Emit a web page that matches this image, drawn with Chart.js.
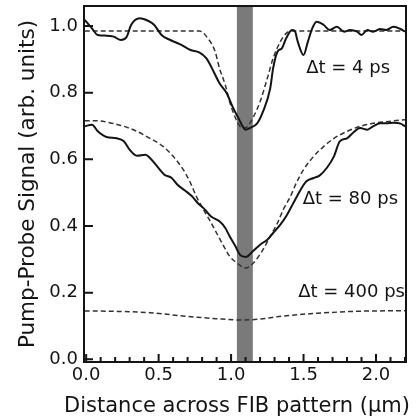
<!DOCTYPE html>
<html>
<head>
<meta charset="utf-8">
<script src="https://cdn.jsdelivr.net/npm/chart.js@4.4.1/dist/chart.umd.min.js"></script>
<style>
  html, body { margin: 0; padding: 0; background: #fff; }
  canvas { display: block; }
</style>
</head>
<body>
<canvas id="chart" width="417" height="418"></canvas>
<script>
// delta t = 4 ps, measured
const x4Solid = [-0.01, 0.04, 0.08, 0.14, 0.19, 0.24, 0.28, 0.31, 0.37, 0.43, 0.47, 0.52, 0.58, 0.65, 0.72, 0.78, 0.83, 0.88, 0.92, 0.97, 1.01, 1.05, 1.09, 1.10, 1.13, 1.18, 1.22, 1.27, 1.29, 1.32, 1.35, 1.38, 1.42, 1.44, 1.46, 1.50, 1.53, 1.56, 1.59, 1.64, 1.68, 1.73, 1.78, 1.82, 1.87, 1.90, 1.94, 1.98, 2.03, 2.07, 2.12, 2.17, 2.20];
const y4Solid = [1.018, 0.993, 0.973, 0.971, 0.968, 0.958, 0.968, 1.003, 1.023, 1.015, 1.003, 0.973, 0.958, 0.945, 0.928, 0.921, 0.903, 0.863, 0.828, 0.798, 0.758, 0.724, 0.692, 0.689, 0.694, 0.708, 0.743, 0.813, 0.873, 0.923, 0.933, 0.963, 0.988, 0.985, 0.953, 0.913, 0.953, 0.993, 1.013, 1.003, 0.988, 0.998, 0.983, 0.988, 0.983, 0.973, 0.988, 0.983, 0.991, 0.988, 0.998, 0.991, 0.983];
// delta t = 4 ps, fit
const x4Fit = [-0.01, 0.78, 0.84, 0.89, 0.92, 0.96, 0.99, 1.03, 1.06, 1.09, 1.11, 1.15, 1.20, 1.25, 1.29, 1.34, 1.38, 1.42, 2.20];
const y4Fit = [0.985, 0.985, 0.963, 0.923, 0.873, 0.823, 0.773, 0.724, 0.700, 0.694, 0.697, 0.724, 0.773, 0.843, 0.903, 0.953, 0.978, 0.985, 0.985];

// delta t = 80 ps, measured
const x80Solid = [-0.01, 0.04, 0.08, 0.14, 0.21, 0.26, 0.30, 0.35, 0.41, 0.44, 0.49, 0.54, 0.59, 0.63, 0.68, 0.73, 0.77, 0.82, 0.86, 0.92, 0.96, 0.99, 1.03, 1.06, 1.10, 1.15, 1.20, 1.25, 1.29, 1.34, 1.38, 1.43, 1.48, 1.52, 1.57, 1.61, 1.66, 1.71, 1.75, 1.80, 1.84, 1.89, 1.94, 1.98, 2.03, 2.07, 2.12, 2.17, 2.20];
const y80Solid = [0.699, 0.704, 0.684, 0.667, 0.663, 0.654, 0.629, 0.611, 0.614, 0.604, 0.579, 0.554, 0.544, 0.524, 0.507, 0.489, 0.469, 0.449, 0.429, 0.414, 0.394, 0.369, 0.339, 0.314, 0.307, 0.324, 0.344, 0.359, 0.379, 0.404, 0.429, 0.469, 0.509, 0.534, 0.544, 0.551, 0.574, 0.609, 0.654, 0.663, 0.679, 0.694, 0.689, 0.699, 0.708, 0.708, 0.710, 0.707, 0.699];
// delta t = 80 ps, fit
const x80Fit = [-0.01, 0.07, 0.16, 0.26, 0.35, 0.44, 0.53, 0.60, 0.67, 0.72, 0.76, 0.81, 0.85, 0.90, 0.95, 0.99, 1.04, 1.10, 1.16, 1.22, 1.27, 1.32, 1.36, 1.41, 1.45, 1.50, 1.57, 1.64, 1.71, 1.80, 1.89, 1.98, 2.07, 2.20];
const y80Fit = [0.716, 0.716, 0.710, 0.699, 0.684, 0.663, 0.639, 0.609, 0.569, 0.529, 0.489, 0.449, 0.419, 0.379, 0.339, 0.309, 0.289, 0.274, 0.292, 0.329, 0.369, 0.409, 0.449, 0.489, 0.529, 0.569, 0.609, 0.639, 0.663, 0.684, 0.699, 0.708, 0.713, 0.719];

// delta t = 400 ps, fit only
const x400Fit = [-0.01, 0.20, 0.44, 0.67, 0.90, 1.08, 1.20, 1.36, 1.59, 1.86, 2.20];
const y400Fit = [0.145, 0.144, 0.140, 0.130, 0.122, 0.118, 0.121, 0.130, 0.138, 0.144, 0.146];

const xTicks = [0, 0.5, 1.0, 1.5, 2.0];
const xMinorTicks = [0.1, 0.2, 0.3, 0.4, 0.6, 0.7, 0.8, 0.9, 1.1, 1.2, 1.3, 1.4, 1.6, 1.7, 1.8, 1.9, 2.1, 2.2];
const yTicks = [0, 0.2, 0.4, 0.6, 0.8, 1.0];
const fibBand = [1.04, 1.15];
const delayLabels = ['Δt = 4 ps', 'Δt = 80 ps', 'Δt = 400 ps'];
const labelAnchors = [[2.097, 0.874], [2.152, 0.479], [2.2, 0.2]];
const xTitle = 'Distance across FIB pattern (μm)';
const yTitle = 'Pump-Probe Signal (arb. units)';

const ink = '#141414';
const textFont = '"DejaVu Sans", sans-serif';

function points(xs, ys) {
  return xs.map((x, i) => ({ x: x, y: ys[i] }));
}

function solid(xs, ys) {
  return { data: points(xs, ys), borderColor: ink, borderWidth: 2, pointRadius: 0, cubicInterpolationMode: 'monotone' };
}

function dashed(xs, ys) {
  return { data: points(xs, ys), borderColor: '#333', borderWidth: 1.5, borderDash: [5, 3], pointRadius: 0, cubicInterpolationMode: 'monotone' };
}

const framePlugin = {
  id: 'frame',
  beforeDatasetsDraw(chart) {
    const { ctx, chartArea: a, scales: { x } } = chart;
    const l = x.getPixelForValue(fibBand[0]);
    const r = x.getPixelForValue(fibBand[1]);
    ctx.save();
    ctx.fillStyle = '#7a7a7a';
    ctx.fillRect(l, a.top, r - l, a.bottom - a.top);
    ctx.restore();
  },
  afterDraw(chart) {
    const { ctx, chartArea: a, scales: { x, y } } = chart;
    ctx.save();
    ctx.strokeStyle = ink;
    ctx.lineWidth = 2;
    ctx.strokeRect(a.left, a.top, a.right - a.left, a.bottom - a.top);
    ctx.beginPath();
    xTicks.forEach(v => {
      const px = x.getPixelForValue(v);
      ctx.moveTo(px, a.bottom);
      ctx.lineTo(px, a.bottom - 8);
    });
    xMinorTicks.forEach(v => {
      const px = x.getPixelForValue(v);
      ctx.moveTo(px, a.bottom);
      ctx.lineTo(px, a.bottom - 5);
    });
    yTicks.forEach(v => {
      const py = y.getPixelForValue(v);
      ctx.moveTo(a.left, py);
      ctx.lineTo(a.left + 9, py);
    });
    ctx.stroke();

    ctx.fillStyle = ink;
    ctx.font = '18px ' + textFont;
    ctx.textAlign = 'right';
    ctx.textBaseline = 'middle';
    delayLabels.forEach((t, i) => {
      ctx.fillText(t, x.getPixelForValue(labelAnchors[i][0]), y.getPixelForValue(labelAnchors[i][1]));
    });

    // x title is a bit wider than the plot, so draw it here instead of the axis title
    ctx.font = '21px ' + textFont;
    ctx.textAlign = 'center';
    ctx.fillText(xTitle, (a.left + a.right) / 2 - 8, a.bottom + 45);
    ctx.restore();
  }
};

new Chart(document.getElementById('chart'), {
  type: 'line',
  data: {
    datasets: [
      solid(x4Solid, y4Solid),
      dashed(x4Fit, y4Fit),
      solid(x80Solid, y80Solid),
      dashed(x80Fit, y80Fit),
      dashed(x400Fit, y400Fit)
    ]
  },
  options: {
    responsive: false,
    animation: false,
    devicePixelRatio: 1,
    layout: { padding: { top: 6, right: 11, left: 0, bottom: 0 } },
    plugins: { legend: { display: false }, tooltip: { enabled: false } },
    scales: {
      x: {
        type: 'linear',
        min: -0.015,
        max: 2.207,
        grid: { display: false, drawTicks: false },
        border: { display: false },
        afterBuildTicks: s => { s.ticks = xTicks.map(v => ({ value: v })); },
        afterFit: s => { s.height = 56; s.paddingLeft = 0; s.paddingRight = 0; },
        ticks: {
          padding: 3,
          color: ink,
          font: { family: textFont, size: 18 },
          callback: v => v.toFixed(1)
        },
        title: { display: false }
      },
      y: {
        min: -0.008,
        max: 1.06,
        grid: { display: false, drawTicks: false },
        border: { display: false },
        afterBuildTicks: s => { s.ticks = yTicks.map(v => ({ value: v })); },
        afterFit: s => { s.width = 84; s.paddingTop = 0; s.paddingBottom = 0; },
        ticks: {
          padding: 6,
          color: ink,
          font: { family: textFont, size: 18 },
          callback: v => v.toFixed(1)
        },
        title: {
          display: true,
          text: yTitle,
          color: ink,
          font: { family: textFont, size: 21.5 },
          padding: { top: 16, bottom: 0 }
        }
      }
    }
  },
  plugins: [framePlugin]
});
</script>
</body>
</html>
